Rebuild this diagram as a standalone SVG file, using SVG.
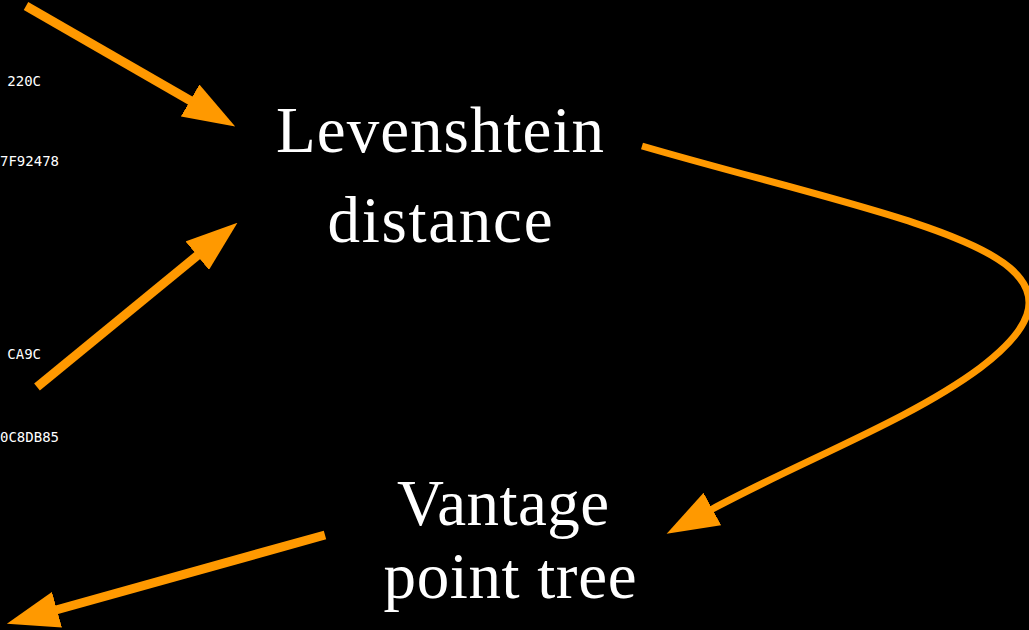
<svg xmlns="http://www.w3.org/2000/svg" width="1029" height="630" viewBox="0 0 1029 630">
  <style>
    .bg { fill: #000000; }
    .code { font-family: "DejaVu Sans Mono", "Liberation Mono", monospace; font-size: 14px; fill: #ffffff; text-anchor: end; }
    .title { font-family: "Liberation Serif", "DejaVu Serif", serif; font-size: 65px; fill: #ffffff; text-anchor: middle; }
    .conn { fill: none; stroke: #ff9900; stroke-linecap: butt; marker-end: url(#head); }
    .thick { stroke-width: 9; }
    .thin { stroke-width: 7; }
  </style>
  <defs>
    <marker id="head" markerUnits="userSpaceOnUse" viewBox="0 0 52 37" refX="1" refY="18.5" markerWidth="52" markerHeight="37" orient="auto">
      <path d="M0,0 L52,18.5 L0,37 Z" fill="#ff9900"/>
    </marker>
  </defs>
  <rect class="bg" x="0" y="0" width="1029" height="630"/>

  <g id="hash-labels">
    <text class="code" x="41" y="86">220C</text>
    <text class="code" x="59" y="166">7F92478</text>
    <text class="code" x="41" y="359">CA9C</text>
    <text class="code" x="59" y="442">0C8DB85</text>
  </g>

  <g id="node-levenshtein">
    <text class="title" x="440" y="152" textLength="328" lengthAdjust="spacing">Levenshtein</text>
    <text class="title" x="440" y="242" textLength="225" lengthAdjust="spacing">distance</text>
  </g>

  <g id="node-vptree">
    <text class="title" x="503" y="525" textLength="212" lengthAdjust="spacing">Vantage</text>
    <text class="title" x="510" y="598" textLength="253" lengthAdjust="spacing">point tree</text>
  </g>

  <g id="connectors">
    <path class="conn thick" d="M26,6 L191,101"/>
    <path class="conn thick" d="M37,387 L198,255"/>
    <path class="conn thick" d="M325,535 L56,610"/>
    <path class="conn thin" d="M642,146 C800,192 960,225 1010,268 C1045,298 1030,330 980,368 C910,420 801,461 711.5,509.5"/>
  </g>
</svg>
